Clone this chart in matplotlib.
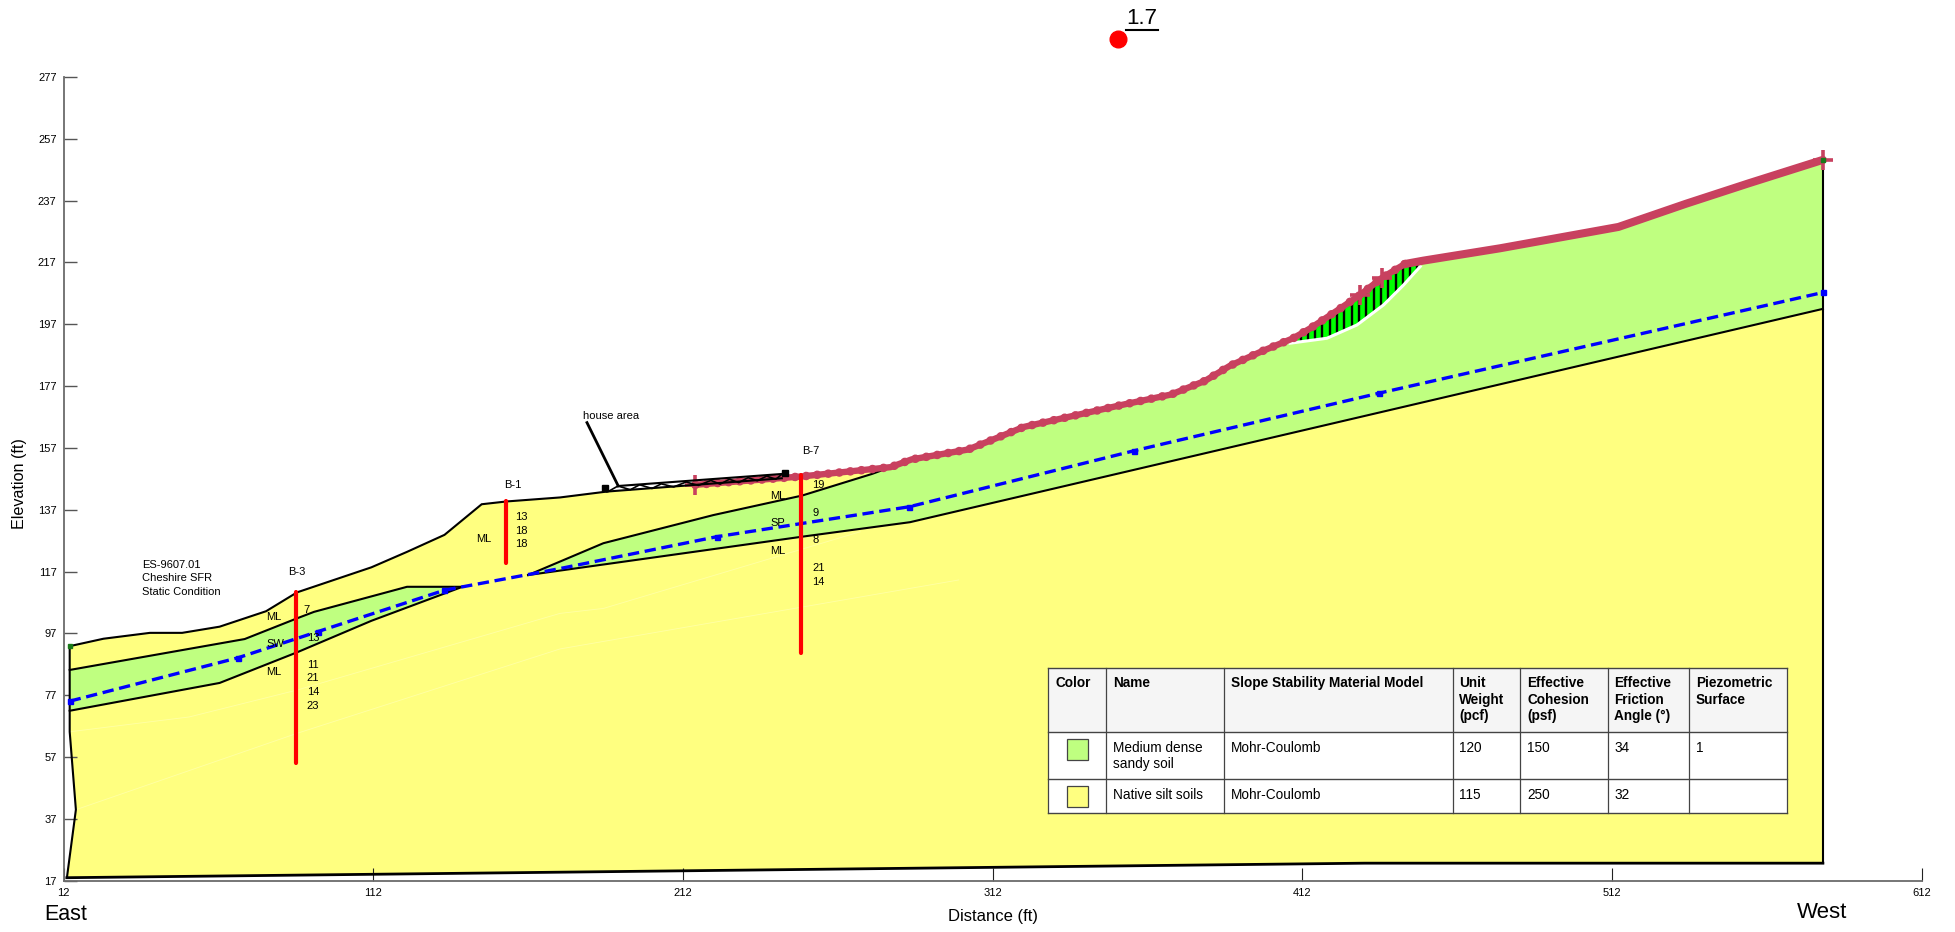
import matplotlib
matplotlib.use("Agg")
import matplotlib.pyplot as plt
import numpy as np
from matplotlib.patches import Polygon, Rectangle
from matplotlib.lines import Line2D

plt.rcParams['font.family'] = ['Liberation Sans', 'DejaVu Sans']

W, H = 1956, 932
YELLOW = '#FFFF80'
GREEN = '#BFFF80'
PINK = '#C8415F'
FS = 8

# Geometry of the section (ft)
ground_lower_x = [14, 24.9, 39.9, 50.3, 62.4, 77.4, 87.4, 111.4, 122.9, 135, 147, 155, 172.3, 187.4]
ground_lower_y = [92.9, 95.3, 97.2, 97.2, 99.2, 104.2, 110.3, 118.4, 123.4, 128.9, 138.8, 139.7, 141.0, 142.9]
ground_upper_x = [216, 250.4, 279, 285.8, 304, 312, 322, 338, 354, 369.6, 380.5, 388.6, 398.7, 409, 414.5, 423.1, 430.6, 437.6, 445]
ground_upper_y = [145.1, 147.8, 150.8, 153.3, 156.5, 159.7, 163.8, 167.4, 171, 174.3, 178.7, 183.6, 188.2, 192.5, 195.7, 201.4, 206.5, 212, 216.5]
ground_smooth_x = [445, 451, 475.8, 514, 535.8, 556, 580]
ground_smooth_y = [216.5, 217.6, 221.6, 228.5, 236, 242.6, 250.2]

left_edge_x = [14, 14, 16, 13.1]
left_edge_y = [92.9, 65.2, 40, 18]
base_x = [13.1, 432, 580]
base_y = [18, 22.7, 22.7]

lens1_top_x = [14, 70.5, 87.4, 92.9, 122.9, 140.8]
lens1_top_y = [85.2, 95.2, 101.9, 104, 112.1, 112.1]
lens1_bot_x = [14, 62.4, 87.4, 111.4, 140.8]
lens1_bot_y = [72, 81, 90.9, 101.1, 112.1]

lens2_top_x = [162, 186.3, 221.8, 250.4, 273, 279]
lens2_top_y = [115.9, 126.2, 135.3, 141.6, 148.6, 150.8]
lens2_bot_x = [162, 250.4, 285.3, 580]
lens2_bot_y = [115.9, 128.3, 133, 202]

water_x = [14, 68.2, 94.1, 135, 172.3, 222.9, 285.1, 357.6, 436.6, 580]
water_y = [75.1, 89.1, 97.6, 111, 118, 128.3, 138, 156.1, 174.7, 207.3]

faint_a_x = [14, 52.6, 87.4, 172.3, 186.3, 269.2]
faint_a_y = [65.2, 70, 78.7, 103.5, 105.1, 129.9]
faint_b_x = [16, 87.4, 172.3, 301]
faint_b_y = [40, 64.7, 92.0, 114.3]

slip_x = [408, 419.9, 429.6, 438.2, 444.6, 450]
slip_y = [190.9, 192.5, 196.8, 203.3, 209.7, 215.7]
slip_top_x = [408, 414.5, 423.1, 430.6, 437.6, 445, 450]
slip_top_y = [190.9, 195.7, 201.4, 206.5, 212, 216.5, 217.4]

cross_x = [216, 430.6, 437.6, 580]
cross_y = [145.1, 206.5, 212, 250.2]

borehole_names = ['B-3', 'B-1', 'B-7']
borehole_x = [87.2, 155, 250.1]
borehole_top = [110.3, 139.8, 148.3]
borehole_bot = [55, 119.9, 90.8]
borehole_label_x = [87.2, 157.2, 253.3]
borehole_label_y = [116.9, 145, 156]

soil_labels = ['ML', 'SW', 'ML', 'ML', 'ML', 'SP', 'ML']
soil_x = [79.9, 80.3, 79.9, 147.8, 242.5, 242.5, 242.5]
soil_y = [102.4, 93.6, 84.6, 127.6, 141.5, 132.6, 123.7]

blow_labels = ['7', '13', '11', '21', '14', '23', '13', '18', '18', '19', '9', '8', '21', '14']
blow_x = [90.6, 92.6, 92.6, 92.6, 92.6, 92.6, 159.9, 159.9, 159.9, 255.7, 254.9, 254.9, 255.7, 255.7]
blow_y = [104.6, 95.5, 86.8, 82.6, 78.1, 73.6, 134.8, 130.2, 126, 145, 136, 127.2, 118.3, 113.6]

note_lines = ['ES-9607.01', 'Cheshire SFR', 'Static Condition']
note_y = [119.1, 115, 110.5]

house_top_x = [191, 244]
house_top_y = [144.7, 148.6]
house_bot_x = [187.4, 243.9]
house_bot_y = [142.9, 147.2]
house_zig_x = [188, 191, 195, 198, 202, 205, 209, 213, 217, 221, 224, 227, 230, 233, 236, 239, 242, 244]
house_zig_y = [143.0, 144.7, 143.5, 145.1, 143.9, 145.4, 144.4, 146.0, 144.9, 146.5, 145.3, 146.9, 145.8, 147.4, 146.4, 147.9, 146.9, 148.6]
house_end_x = [186.9, 245]
house_end_y = [144.0, 148.8]
house_arrow_x = [181, 191.1]
house_arrow_y = [165.2, 144.7]

fos_value = '1.7'
fos_x = 352.5
fos_y = 289.3

xticks = [12, 112, 212, 312, 412, 512, 612]
yticks = [17, 37, 57, 77, 97, 117, 137, 157, 177, 197, 217, 237, 257, 277]

table_columns = ['Color', 'Name', 'Slope Stability Material Model', 'Unit\nWeight\n(pcf)',
                 'Effective\nCohesion\n(psf)', 'Effective\nFriction\nAngle (°)', 'Piezometric\nSurface']
table_row1 = ['', 'Medium dense\nsandy soil', 'Mohr-Coulomb', '120', '150', '34', '1']
table_row2 = ['', 'Native silt soils', 'Mohr-Coulomb', '115', '250', '32', '']

fig = plt.figure(figsize=(W / 100, H / 100), dpi=100, facecolor='white')
ax = fig.add_axes([63.5 / W, 1 - 880.8 / H, (1922 - 63.5) / W, (880.8 - 77) / H])
ax.set_xlim(12, 612)
ax.set_ylim(17, 277)
ax.patch.set_visible(False)
for s in ('top', 'right'):
    ax.spines[s].set_visible(False)
for s in ('left', 'bottom'):
    ax.spines[s].set_color('#6b6b6b')
    ax.spines[s].set_linewidth(1.3)
ax.set_xticks(xticks)
ax.set_yticks(yticks)
ax.tick_params(axis='y', direction='in', length=9.5, width=1.0, color='#555555', labelsize=FS, pad=5)
ax.tick_params(axis='x', direction='in', length=9.5, width=0.8, color='#222222', labelsize=FS, pad=5)

top_x = ground_lower_x + ground_upper_x + ground_smooth_x[1:]
top_y = ground_lower_y + ground_upper_y + ground_smooth_y[1:]

# soil bodies
outline = list(zip(top_x, top_y)) + list(zip(base_x[::-1], base_y[::-1])) + list(zip(left_edge_x[::-1], left_edge_y[::-1]))
ax.add_patch(Polygon(outline, closed=True, fc=YELLOW, ec='none', zorder=1))
ax.plot(faint_a_x, faint_a_y, color='#FFFFA6', lw=0.6, zorder=1.5)
ax.plot(faint_b_x, faint_b_y, color='#FFFFA6', lw=0.6, zorder=1.5)

lens1 = list(zip(lens1_top_x, lens1_top_y)) + list(zip(lens1_bot_x[::-1], lens1_bot_y[::-1]))
ax.add_patch(Polygon(lens1, closed=True, fc=GREEN, ec='none', zorder=2))
tx = [x for x in top_x if x > 279]
ty = [y for x, y in zip(top_x, top_y) if x > 279]
lens2 = list(zip(lens2_top_x, lens2_top_y)) + list(zip(tx, ty)) + list(zip(lens2_bot_x[::-1], lens2_bot_y[::-1]))
ax.add_patch(Polygon(lens2, closed=True, fc=GREEN, ec='none', zorder=2))

# slip mass with vertical stripe texture
slip = list(zip(slip_top_x, slip_top_y)) + list(zip(slip_x[::-1], slip_y[::-1]))
slip_patch = Polygon(slip, closed=True, fc='#00FF00', ec='none', zorder=3)
ax.add_patch(slip_patch)
stripes = ax.vlines(np.arange(slip_x[0] + 1, slip_x[-1], 2.36), 185, 222, color='black', lw=1.7, zorder=3.1)
stripes.set_clip_path(slip_patch)
ax.plot(slip_x, slip_y, color='white', lw=2.2, zorder=3.2)

# outlines
K = dict(color='black', lw=1.5, zorder=4, solid_joinstyle='miter')
n_black = top_x.index(279)
ax.plot(ground_lower_x, ground_lower_y, **K)
ax.plot(left_edge_x, left_edge_y, **K)
ax.plot(base_x, base_y, color='black', lw=2.0, zorder=4)
ax.plot([580, 580], [250.2, 22.7], **K)
ax.plot(lens1_top_x, lens1_top_y, **K)
ax.plot(lens1_bot_x, lens1_bot_y, **K)
ax.plot(lens2_top_x, lens2_top_y, **K)
ax.plot(lens2_bot_x, lens2_bot_y, **K)

# piezometric line
ax.plot(water_x, water_y, color='#0000FF', lw=2.4, ls=(0, (3.4, 1.7)), zorder=5)
ax.plot(water_x[:4] + water_x[5:], water_y[:4] + water_y[5:], ls='none', marker='s', ms=3.6, color='#0000FF', zorder=5)

# slope surface
ax.plot(ground_upper_x, ground_upper_y, color=PINK, lw=4.6, zorder=6)
ax.plot(ground_upper_x, ground_upper_y, color=PINK, lw=6.2, ls=(0, (0.01, 1.28)),
        dash_capstyle='round', zorder=6)
ax.plot(ground_smooth_x, ground_smooth_y, color=PINK, lw=5.8, zorder=6, solid_capstyle='round')
ax.plot(cross_x, cross_y, ls='none', marker='+', ms=14.5, mew=2.6, color=PINK, zorder=6)
ax.plot([14, 580], [92.9, 250.2], ls='none', marker='s', ms=2.5, color='#1a7a1a', zorder=7)

# house
ax.plot(house_top_x, house_top_y, color='black', lw=1.5, zorder=7)
ax.plot(house_bot_x, house_bot_y, color='black', lw=1.5, zorder=7)
ax.plot(house_zig_x, house_zig_y, color='black', lw=1.2, zorder=7)
ax.plot(house_end_x, house_end_y, ls='none', marker='s', ms=4.2, color='black', zorder=7)
ax.plot(house_arrow_x, house_arrow_y, color='black', lw=2.0, zorder=7)
ax.text(179.8, 167.4, 'house area', fontsize=FS, va='center', ha='left', zorder=8)

# borings
for bx, bt, bb in zip(borehole_x, borehole_top, borehole_bot):
    ax.plot([bx, bx], [bb, bt], color='#FF0000', lw=3.0, solid_capstyle='round', zorder=8)
for n, bx, by in zip(borehole_names, borehole_label_x, borehole_label_y):
    ax.text(bx, by, n, fontsize=FS, ha='center', va='center', zorder=9)
for t, tx_, ty_ in zip(soil_labels, soil_x, soil_y):
    ax.text(tx_, ty_, t, fontsize=FS, ha='center', va='center', zorder=9)
for t, tx_, ty_ in zip(blow_labels, blow_x, blow_y):
    ax.text(tx_, ty_, t, fontsize=FS, ha='center', va='center', zorder=9)
for t, ny in zip(note_lines, note_y):
    ax.text(37.4, ny, t, fontsize=FS, ha='left', va='center', zorder=9)

# critical circle marker
ax.plot([fos_x], [fos_y], marker='o', ms=12, color='#FF0000', clip_on=False, zorder=10)


def ptext(x, y, s, **kw):
    fig.text(x / W, 1 - y / H, s, **kw)


ptext(1142, 19, fos_value, fontsize=16, ha='center', va='center')
fig.add_artist(Line2D([1126 / W, 1158 / W], [1 - 30 / H] * 2, color='black', lw=1.5))

ptext(993, 917, 'Distance (ft)', fontsize=12, ha='center', va='center')
ptext(19.5, 484, 'Elevation (ft)', fontsize=11.6, ha='center', va='center', rotation=90)
ptext(66, 914, 'East', fontsize=15.5, ha='center', va='center')
ptext(1822, 912, 'West', fontsize=16, ha='center', va='center')

# material table
col_edges = [1048.3, 1105.8, 1223.7, 1452.6, 1520.3, 1607.8, 1688.8, 1786.6]
row_edges = [667.5, 732.3, 779.3, 813.3]
text_x = [1055.7, 1113.2, 1230.6, 1459, 1527.2, 1614.2, 1695.7]
LINE = 16.4


def add_rect(x0, y0, x1, y1, **kw):
    fig.add_artist(Rectangle((x0 / W, 1 - y1 / H), (x1 - x0) / W, (y1 - y0) / H,
                             transform=fig.transFigure, **kw))


add_rect(col_edges[0], row_edges[0], col_edges[-1], row_edges[1], fc='#F5F5F5', ec='none', zorder=20)
add_rect(col_edges[0], row_edges[1], col_edges[-1], row_edges[-1], fc='white', ec='none', zorder=20)
for cx in col_edges:
    fig.add_artist(Line2D([cx / W] * 2, [1 - row_edges[0] / H, 1 - row_edges[-1] / H],
                          color='#444444', lw=0.9, zorder=21))
for ry in row_edges:
    fig.add_artist(Line2D([col_edges[0] / W, col_edges[-1] / W], [1 - ry / H] * 2,
                          color='#444444', lw=1.0, zorder=21))


def cell(text, cx, top, weight='normal', fs=9.8):
    for i, line in enumerate(text.split('\n')):
        if line:
            ptext(cx, top + i * LINE, line, fontsize=fs, fontweight=weight,
                  ha='left', va='center', zorder=22)


for s, cx in zip(table_columns, text_x):
    cell(s, cx, 683.3, weight='bold')
for s, cx in zip(table_row1, text_x):
    cell(s, cx, 748)
for s, cx in zip(table_row2, text_x):
    cell(s, cx, 795)
add_rect(1066.5, 739.3, 1087.6, 760, fc=GREEN, ec='#444444', lw=0.9, zorder=22)
add_rect(1066.5, 786.3, 1087.6, 807, fc=YELLOW, ec='#444444', lw=0.9, zorder=22)

fig.savefig('out.png', dpi=100)
